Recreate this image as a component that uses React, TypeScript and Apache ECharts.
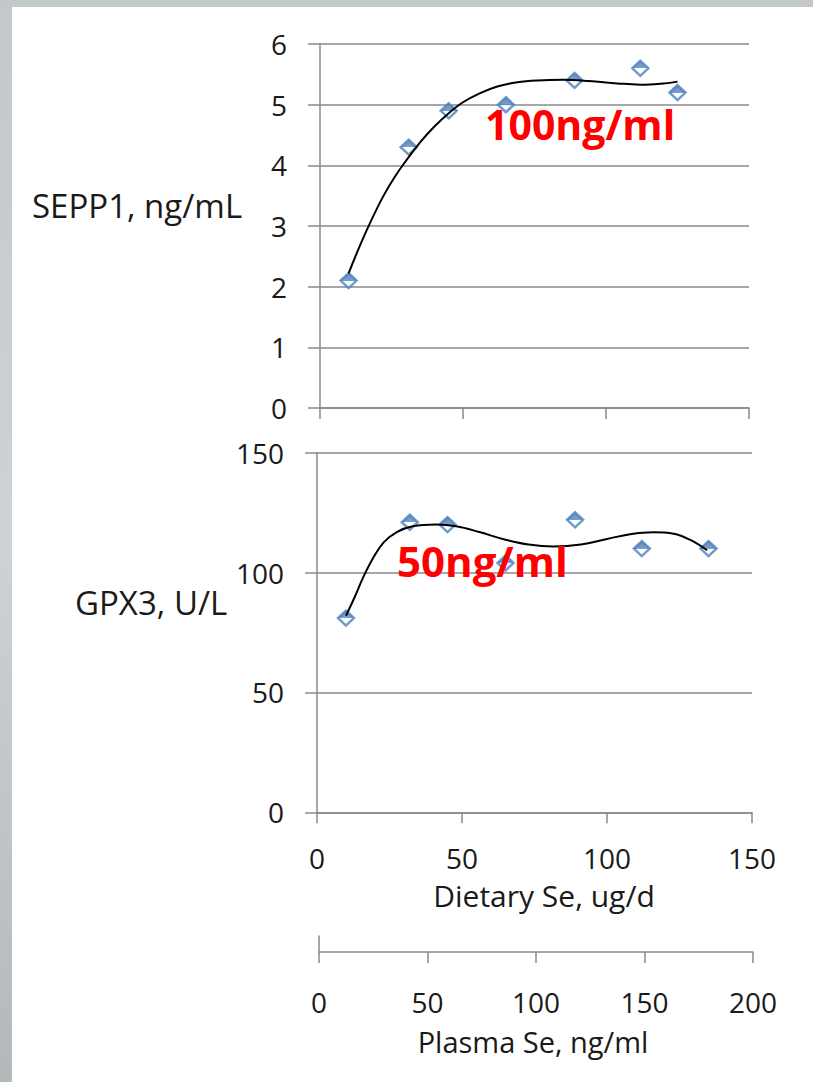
import React, { useEffect, useRef } from "react";
import * as echarts from "echarts";

// Dietary Se axis ticks (ug/d) and Plasma Se axis ticks (ng/ml)
const dietaryTicks = [0, 50, 100, 150];
const plasmaTicks = [0, 50, 100, 150, 200];

// SEPP1 panel
const seppDietary = [10, 31, 45, 65, 89, 112, 125];
const seppValues = [2.1, 4.3, 4.9, 5.0, 5.4, 5.6, 5.2];
const seppCurveX = [10, 14, 18, 22, 26, 30, 35, 40, 45, 50, 56, 62, 69, 76, 85, 94, 104, 112, 120, 125];
const seppCurveY = [2.22, 2.68, 3.1, 3.48, 3.8, 4.07, 4.38, 4.64, 4.86, 5.04, 5.19, 5.3, 5.37, 5.4, 5.41, 5.39, 5.35, 5.33, 5.35, 5.38];

// GPX3 panel
const gpxDietary = [10, 32, 45, 65, 89, 112, 135];
const gpxValues = [81, 121, 120, 104, 122, 110, 110];
const gpxCurveX = [10, 13, 16, 19.4, 23, 27.5, 33, 41, 48, 56, 65, 73, 81.5, 91, 100, 108, 116, 123, 128.6, 134.5];
const gpxCurveY = [82, 89.8, 98.2, 106.2, 112.6, 116.9, 119.3, 120, 119.3, 116.9, 113.7, 111.7, 110.9, 111.7, 114.0, 116, 116.8, 116.2, 113.7, 109.3];

const FONT = "'Open Sans', 'Noto Sans', sans-serif";
const AXIS_COLOR = "#8a8a8a";

function zip(xs: number[], ys: number[]) {
  return xs.map((x, i) => [x, ys[i]]);
}

export default function App() {
  const ref = useRef<HTMLDivElement>(null);
  useEffect(() => {
    const chart = echarts.init(ref.current!, null, { renderer: "svg" });
    const lineStyle = { color: AXIS_COLOR, width: 1.5 };
    const markerFill = new echarts.graphic.LinearGradient(0, 0, 0, 1, [
      { offset: 0, color: "#4577b3" },
      { offset: 0.5, color: "#5686c0" },
      { offset: 0.5, color: "#ffffff" },
      { offset: 1, color: "#ffffff" },
    ]);
    const scatterStyle = {
      color: markerFill,
      borderColor: "#4f81bd",
      borderWidth: 2.5,
    };
    const tickLabel = { fontFamily: FONT, fontSize: 28, color: "#1a1a1a" };
    const xBase = (gridIndex: number, max: number, showLabels: boolean, margin: number) => ({
      type: "value",
      gridIndex,
      min: 0,
      max,
      interval: 50,
      axisLine: { show: true, onZero: false, lineStyle },
      axisTick: { show: true, length: 11, lineStyle },
      splitLine: { show: false },
      axisLabel: { show: showLabels, margin, ...tickLabel },
    });
    const yBase = (gridIndex: number, max: number, interval: number) => ({
      type: "value",
      gridIndex,
      min: 0,
      max,
      interval,
      axisLine: { show: true, lineStyle },
      axisTick: { show: true, length: 12, lineStyle },
      splitLine: { show: true, lineStyle },
      axisLabel: { show: true, margin: 33, ...tickLabel },
    });
    const titleText = (text: string, x: number, y: number, align: string, size: number, extra: any = {}) => ({
      type: "text",
      x,
      y,
      z: 100,
      style: {
        text,
        fontFamily: FONT,
        fontSize: size,
        fill: "#1a1a1a",
        align,
        textAlign: align,
        verticalAlign: "middle",
        textVerticalAlign: "middle",
        ...extra,
      },
    });
    const curveSeries = (idx: number, xs: number[], ys: number[]) => ({
      type: "line",
      xAxisIndex: idx,
      yAxisIndex: idx,
      smooth: 0.4,
      showSymbol: false,
      symbol: "none",
      lineStyle: { color: "#000", width: 2 },
      data: zip(xs, ys),
      z: 3,
    });
    const scatterSeries = (idx: number, xs: number[], ys: number[]) => ({
      type: "scatter",
      xAxisIndex: idx,
      yAxisIndex: idx,
      symbol: "diamond",
      symbolSize: [16, 15],
      itemStyle: scatterStyle,
      data: zip(xs, ys),
      z: 2,
    });
    const option: any = {
      animation: false,
      backgroundColor: "transparent",
      textStyle: { fontFamily: FONT },
      grid: [
        { left: 320, top: 44, width: 429, height: 364 },
        { left: 317, top: 452.7, width: 435, height: 359.6 },
        { left: 319, top: 936, width: 434, height: 16 },
      ],
      xAxis: [
        xBase(0, dietaryTicks[dietaryTicks.length - 1], false, 30),
        xBase(1, dietaryTicks[dietaryTicks.length - 1], true, 32),
        xBase(2, plasmaTicks[plasmaTicks.length - 1], true, 36),
      ],
      yAxis: [
        yBase(0, 6, 1),
        yBase(1, 150, 50),
        {
          type: "value",
          gridIndex: 2,
          min: 0,
          max: 1,
          axisLine: { show: true, lineStyle },
          axisTick: { show: false },
          splitLine: { show: false },
          axisLabel: { show: false },
        },
      ],
      series: [
        scatterSeries(0, seppDietary, seppValues),
        curveSeries(0, seppCurveX, seppCurveY),
        scatterSeries(1, gpxDietary, gpxValues),
        curveSeries(1, gpxCurveX, gpxCurveY),
      ],
      graphic: [
        titleText("SEPP1, ng/mL", 32, 205, "left", 33),
        titleText("GPX3, U/L", 75, 602, "left", 33),
        titleText("Dietary Se, ug/d", 544, 895, "center", 30),
        titleText("Plasma Se, ng/ml", 533, 1041, "center", 29),
        titleText("100ng/ml", 485, 124, "left", 41, { fill: "#ff0000", fontWeight: "bold" }),
        titleText("50ng/ml", 397, 560, "left", 42, { fill: "#ff0000", fontWeight: "bold" }),
      ],
    };
    chart.setOption(option);
    return () => chart.dispose();
  }, []);
  return (
    <div
      style={{
        position: "absolute",
        left: 0,
        top: 0,
        width: 813,
        height: 1082,
        overflow: "hidden",
        background: "linear-gradient(to bottom, #c3c8cb 0%, #cdd2d5 50%, #b3b8bb 100%)",
      }}
    >
      <div style={{ position: "absolute", left: 12, top: 7, width: 801, height: 1075, background: "#ffffff" }} />
      <div ref={ref} style={{ position: "absolute", left: 0, top: 0, width: 813, height: 1082 }} />
    </div>
  );
}
